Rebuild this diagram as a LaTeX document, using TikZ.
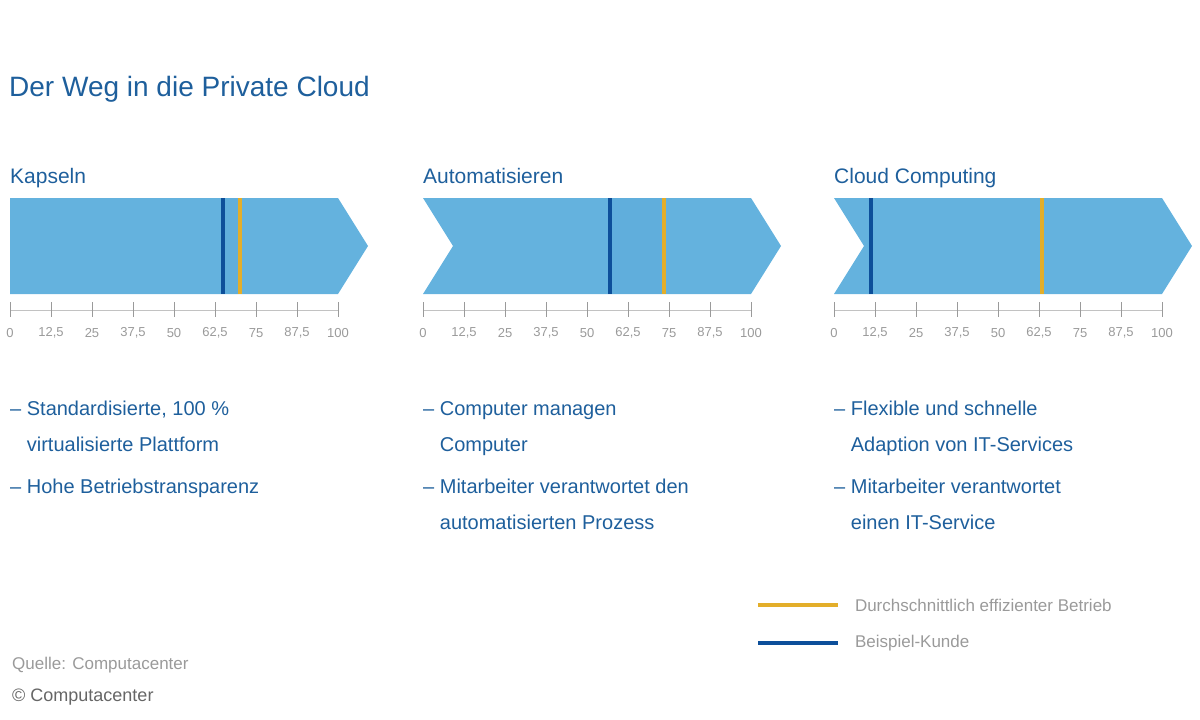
\documentclass[tikz,border=0pt]{standalone}
\usepackage{fontspec}
\setmainfont{Liberation Sans}
\usetikzlibrary{positioning}
\definecolor{pfeil}{HTML}{64B2DE}
\definecolor{band}{HTML}{5AA8D8}
\definecolor{kunde}{HTML}{0D4F9A}
\definecolor{schnitt}{HTML}{E3AE2A}
\definecolor{schrift}{HTML}{1E5F9C}
\definecolor{skala}{HTML}{9A9A9A}
\tikzset{kopf/.style={anchor=base west, text=schrift, font=\fontsize{21}{24}\selectfont, inner sep=0},
	punkt/.style={anchor=north west, text=schrift, font=\fontsize{20}{36}\selectfont, inner sep=0, align=left},
	zahl/.style={text=skala, font=\fontsize{13}{14}\selectfont, inner sep=0},
	marke/.style={line width=4pt},
	legende/.style={anchor=west, text=skala, font=\fontsize{17}{18}\selectfont, inner sep=0} }

\begin{document}
\begin{tikzpicture}[x=1pt, y=-1pt]
  \useasboundingbox (0,0) rectangle (1200,720);
  \node (titel) [kopf, font=\fontsize{28}{32}\selectfont] at (9,96) {Der Weg in die Private Cloud};

  % Pfeile: Start, Kerbe, Blau-Wert, Gelb-Wert, Band, Name
  \foreach \x/\k/\b/\g/\bd/\name/\n in {10/0/65/70/40/Kapseln/1, 423/30/57/73.5/40/Automatisieren/2, 834/30/11.2/63.5/0/Cloud Computing/3}{
    \pgfmathsetmacro{\e}{\x+328}
    \node (kopf\n) [kopf] at (\x,183) {\name};
    \fill[pfeil] (\x,198) -- (\e,198) -- (\e+30,246) -- (\e,294) -- (\x,294) -- (\x+\k,246) -- cycle;
    \fill[band!\bd!pfeil] ({\x+\b*3.28},198) rectangle ({\x+\g*3.28},294);
    \draw[kunde, marke] ({\x+\b*3.28},198) -- ({\x+\b*3.28},294);
    \draw[schnitt, marke] ({\x+\g*3.28},198) -- ({\x+\g*3.28},294);
    \draw[skala!60, thin] (\x,310) -- (\e,310);
    \foreach \t/\lab in {0/0, 1/{12,5}, 2/25, 3/{37,5}, 4/50, 5/{62,5}, 6/75, 7/{87,5}, 8/100}{
      \draw[skala, thick] ({\x+\t*41},302) -- ({\x+\t*41},317);
      \node (z\n\t) [zahl] at ({\x+\t*41},333) {\lab};
    }
  }

  % Stichpunkte
  \node (p1) [punkt] at (10,401) {– Standardisierte, 100 \%\\\phantom{– }virtualisierte Plattform\\[6pt]– Hohe Betriebstransparenz};
  \node (p2) [punkt] at (423,401) {– Computer managen\\\phantom{– }Computer\\[6pt]– Mitarbeiter verantwortet den\\\phantom{– }automatisierten Prozess};
  \node (p3) [punkt] at (834,401) {– Flexible und schnelle\\\phantom{– }Adaption von IT-Services\\[6pt]– Mitarbeiter verantwortet\\\phantom{– }einen IT-Service};

  % Legende
  \coordinate (lg1) at (758,605);
  \coordinate (lg2) at (758,643);
  \draw[schnitt, marke] (lg1) -- ++(80,0) node (lt1) [legende, right=15pt] {Durchschnittlich effizienter Betrieb};
  \draw[kunde, marke] (lg2) -- ++(80,0) node (lt2) [legende, right=15pt] {Beispiel-Kunde};

  \node (quelle) [legende] at (12,665) {Quelle: Computacenter};
  \node (copy) [legende, text=gray!80!black, font=\fontsize{18}{20}\selectfont] at (12,697) {© Computacenter};
\end{tikzpicture}
\end{document}
